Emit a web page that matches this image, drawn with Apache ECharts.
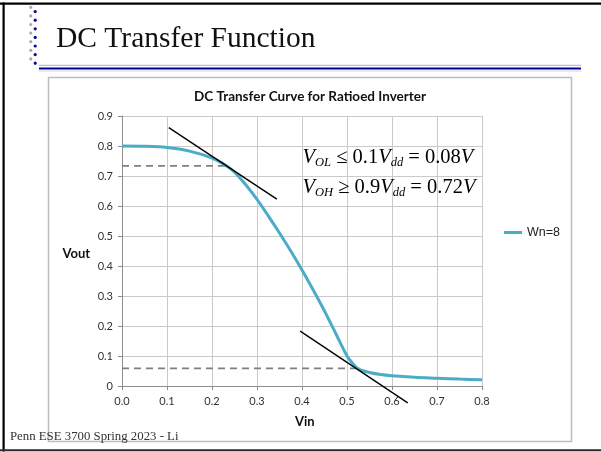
<!DOCTYPE html>
<html>
<head>
<meta charset="utf-8">
<script src="https://cdn.jsdelivr.net/npm/echarts@6/dist/echarts.min.js"></script>
<style>
html,body{margin:0;padding:0;background:#fff;}
#c{width:601px;height:452px;}
</style>
</head>
<body>
<div id="c"></div>
<script>
// ---- data ----
const xTicks = [0, 0.1, 0.2, 0.3, 0.4, 0.5, 0.6, 0.7, 0.8];
const curveX = [0, 0.05, 0.1, 0.15, 0.2, 0.23, 0.25, 0.275, 0.3, 0.325, 0.35, 0.375, 0.4, 0.425, 0.45, 0.475, 0.5, 0.51, 0.52, 0.53, 0.55, 0.575, 0.6, 0.65, 0.7, 0.75, 0.8];
const curveY = [0.800, 0.799, 0.795, 0.783, 0.760, 0.736, 0.713, 0.671, 0.622, 0.567, 0.510, 0.450, 0.387, 0.320, 0.250, 0.175, 0.100, 0.080, 0.063, 0.054, 0.045, 0.038, 0.034, 0.029, 0.026, 0.023, 0.021];
const seriesName = 'Wn=8';
const tangentHigh = [[0.104, 0.861], [0.344, 0.623]];
const tangentLow = [[0.396, 0.183], [0.635, -0.056]];
const vohDash = [[0, 0.734], [0.233, 0.734]];
const volDash = [[0, 0.059], [0.522, 0.059]];
const slideTitle = 'DC Transfer Function';
const chartTitle = 'DC Transfer Curve for Ratioed Inverter';
const footer = 'Penn ESE 3700 Spring 2023 - Li';

const curve = curveX.map((x, i) => [x, curveY[i]]);

const sans = 'Lato';
const serif = 'Liberation Serif';

// decorative dots
const dots = [];
const grayY = [7.3, 15.9, 24.5, 33.1, 41.7, 50.3, 58.9];
const blueY = [11.6, 20.2, 28.8, 37.4, 46.0, 54.6, 63.2];
grayY.forEach(y => dots.push({type:'circle', shape:{cx:30.8, cy:y, r:1.6}, style:{fill:'#aaaaaa'}, silent:true}));
blueY.forEach(y => dots.push({type:'circle', shape:{cx:35.2, cy:y, r:1.6}, style:{fill:'#0a0a96'}, silent:true}));

const richStyle = {
  v: {fontFamily: serif, fontStyle: 'italic', fontSize: 20.5, lineHeight: 24, color: '#000', verticalAlign: 'middle'},
  n: {fontFamily: serif, fontSize: 20.5, lineHeight: 24, color: '#000', verticalAlign: 'middle'},
  s: {fontFamily: serif, fontStyle: 'italic', fontSize: 12.5, lineHeight: 13, color: '#000', verticalAlign: 'bottom'}
};

const chart = echarts.init(document.getElementById('c'), null, {renderer: 'canvas'});
chart.setOption({
  animation: false,
  backgroundColor: '#fff',
  grid: {left: 122, right: 119, top: 116, bottom: 66, containLabel: false},
  legend: {
    data: [seriesName],
    left: 499, top: 221,
    icon: 'rect', itemWidth: 18, itemHeight: 3,
    textStyle: {fontFamily: 'Liberation Sans', fontSize: 12.5, color: '#222'}
  },
  xAxis: {
    type: 'value', min: 0, max: 0.8, interval: 0.1,
    axisLine: {show: true, lineStyle: {color: '#8c8c8c', width: 1}},
    axisTick: {show: true, length: 4, lineStyle: {color: '#8c8c8c'}},
    splitLine: {show: true, lineStyle: {color: '#cacaca', width: 1}},
    axisLabel: {margin: 10, fontFamily: sans, fontSize: 11, color: '#333', formatter: v => v.toFixed(1)}
  },
  yAxis: {
    type: 'value', min: 0, max: 0.9, interval: 0.1,
    axisLine: {show: true, lineStyle: {color: '#8c8c8c', width: 1}},
    axisTick: {show: true, length: 4, lineStyle: {color: '#8c8c8c'}},
    splitLine: {show: true, lineStyle: {color: '#cacaca', width: 1}},
    axisLabel: {margin: 9, fontFamily: sans, fontSize: 11, color: '#333', formatter: v => (v === 0 ? '0' : v.toFixed(1))}
  },
  series: [
    {name: 'voh', type: 'line', data: vohDash, symbol: 'none', clip: false, silent: true,
     lineStyle: {color: '#808080', width: 1.8, type: [7, 5]}, z: 2},
    {name: 'vol', type: 'line', data: volDash, symbol: 'none', clip: false, silent: true,
     lineStyle: {color: '#808080', width: 1.8, type: [7, 5]}, z: 2},
    {name: seriesName, type: 'line', data: curve, symbol: 'none', smooth: 0.3, color: '#4bacc6',
     lineStyle: {color: '#4bacc6', width: 3}, z: 3},
    {name: 't1', type: 'line', data: tangentHigh, symbol: 'none', clip: false, silent: true,
     lineStyle: {color: '#000', width: 1.4}, z: 4},
    {name: 't2', type: 'line', data: tangentLow, symbol: 'none', clip: false, silent: true,
     lineStyle: {color: '#000', width: 1.4}, z: 4}
  ],
  graphic: [
    // slide border
    {type:'rect', shape:{x:0, y:2.5, width:601, height:2.2}, style:{fill:'#000'}, silent:true},
    {type:'rect', shape:{x:2.5, y:2.5, width:2.2, height:449}, style:{fill:'#000'}, silent:true},
    {type:'rect', shape:{x:0, y:449.2, width:601, height:2}, style:{fill:'#2a2a2a'}, silent:true},
    // title underline
    {type:'rect', shape:{x:39, y:64.8, width:542, height:1.2}, style:{fill:'#c0c0c0'}, silent:true},
    {type:'rect', shape:{x:39, y:67.4, width:542, height:2}, style:{fill:'#00009c'}, silent:true},
    {type:'rect', shape:{x:39, y:70.4, width:542, height:1.2}, style:{fill:'#d6d6d6'}, silent:true},
    // chart frame
    {type:'rect', shape:{x:48.5, y:77.5, width:523, height:364}, style:{fill:'none', stroke:'#bdbdbd', lineWidth:1.5}, silent:true, z:-1},
    ...dots,
    {type:'text', x:56, y:39.5, style:{text: slideTitle, fontFamily: serif, fontSize: 29.5, fill:'#111', textAlign:'left', textVerticalAlign:'middle'}, silent:true},
    {type:'text', x:310, y:97, style:{text: chartTitle, fontFamily: sans, fontWeight:'bold', fontSize: 13.5, fill:'#111', textAlign:'center', textVerticalAlign:'middle'}, silent:true},
    {type:'text', x:62.5, y:253.5, style:{text: 'Vout', fontFamily: sans, fontWeight:'bold', fontSize: 13, fill:'#111', textAlign:'left', textVerticalAlign:'middle'}, silent:true},
    {type:'text', x:295, y:421.5, style:{text: 'Vin', fontFamily: sans, fontWeight:'bold', fontSize: 13, fill:'#111', textAlign:'left', textVerticalAlign:'middle'}, silent:true},
    {type:'text', x:10, y:437, style:{text: footer, fontFamily: serif, fontSize: 12.8, fill:'#333', textAlign:'left', textVerticalAlign:'middle'}, silent:true},
    {type:'text', x:302.5, y:145.5, z:10, style:{text:'{v|V}{s|OL}{n| ≤ 0.1}{v|V}{s|dd}{n| = 0.08}{v|V}', rich: richStyle, textAlign:'left', textVerticalAlign:'top'}, silent:true},
    {type:'text', x:302.5, y:175.5, z:10, style:{text:'{v|V}{s|OH}{n| ≥ 0.9}{v|V}{s|dd}{n| = 0.72}{v|V}', rich: richStyle, textAlign:'left', textVerticalAlign:'top'}, silent:true}
  ]
});
</script>
</body>
</html>
